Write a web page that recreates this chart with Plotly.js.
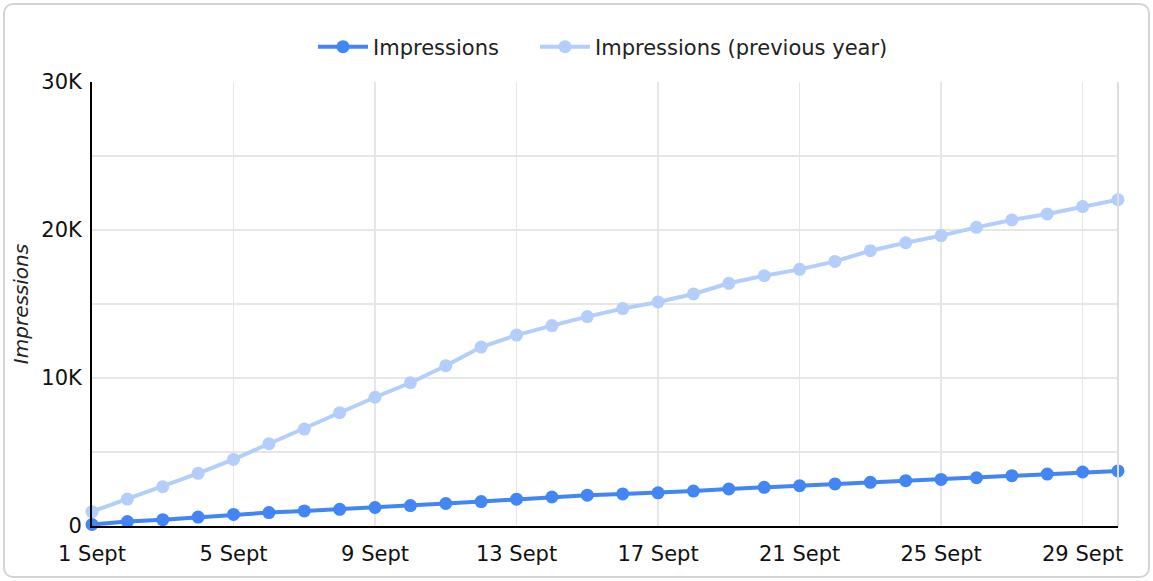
<!DOCTYPE html>
<html>
<head>
<meta charset="utf-8">
<script src="https://cdn.plot.ly/plotly-3.0.1.min.js"></script>
<style>
  html, body { margin: 0; padding: 0; background: #ffffff; }
  #wrap { position: relative; width: 1153px; height: 581px; }
  #chart { position: absolute; left: 0; top: 0; width: 1153px; height: 581px; }
  #card { position: absolute; left: 3px; top: 3px; width: 1147px; height: 575px;
          box-sizing: border-box; border: 2px solid #d4d4d4; border-radius: 10px;
          pointer-events: none; }
</style>
</head>
<body>
<div id="wrap">
  <div id="chart"></div>
  <div id="card"></div>
</div>
<script>
const days = ["1 Sept","2 Sept","3 Sept","4 Sept","5 Sept","6 Sept","7 Sept","8 Sept","9 Sept","10 Sept",
  "11 Sept","12 Sept","13 Sept","14 Sept","15 Sept","16 Sept","17 Sept","18 Sept","19 Sept","20 Sept",
  "21 Sept","22 Sept","23 Sept","24 Sept","25 Sept","26 Sept","27 Sept","28 Sept","29 Sept","30 Sept"];

const impressions = [100, 300, 430, 600, 780, 910, 1020, 1130, 1250, 1380,
  1520, 1650, 1810, 1960, 2080, 2170, 2240, 2360, 2500, 2610,
  2720, 2840, 2950, 3060, 3150, 3260, 3400, 3510, 3650, 3720];

const impressionsPrev = [970, 1820, 2660, 3560, 4500, 5560, 6550, 7660, 8700, 9680,
  10830, 12090, 12900, 13540, 14150, 14690, 15140, 15680, 16400, 16910,
  17340, 17880, 18600, 19140, 19620, 20180, 20680, 21080, 21580, 22050];

const xTickVals = ["1 Sept","5 Sept","9 Sept","13 Sept","17 Sept","21 Sept","25 Sept","29 Sept"];
const yTickVals = [0, 5000, 10000, 15000, 20000, 25000, 30000];
const yTickText = ["0", "", "10K", "", "20K", "", "30K"];

const FONT = "DejaVu Sans, Noto Sans, sans-serif";

const traces = [
  {
    x: days, y: impressions, name: "Impressions", type: "scatter", mode: "lines+markers",
    line: { color: "#4285f4", width: 4 },
    marker: { color: "#4285f4", size: 13 },
    cliponaxis: false, legend: "legend"
  },
  {
    x: days, y: impressionsPrev, name: "Impressions (previous year)", type: "scatter", mode: "lines+markers",
    line: { color: "#b3cefb", width: 4 },
    marker: { color: "#b3cefb", size: 13 },
    cliponaxis: false, legend: "legend2"
  }
];

const legendFont = { family: FONT, size: 21, color: "#222222" };
const legendY = 1 + (82 - 47) / 444;

const layout = {
  width: 1153, height: 581,
  margin: { l: 92, r: 35, t: 82, b: 55 },
  paper_bgcolor: "rgba(0,0,0,0)",
  plot_bgcolor: "#ffffff",
  font: { family: FONT, size: 21, color: "#000000" },
  showlegend: true,
  legend: {
    orientation: "h", x: (313 - 92) / 1026, xanchor: "left", y: legendY, yanchor: "middle",
    font: legendFont, itemwidth: 50, bgcolor: "rgba(0,0,0,0)"
  },
  legend2: {
    orientation: "h", x: (535 - 92) / 1026, xanchor: "left", y: legendY, yanchor: "middle",
    font: legendFont, itemwidth: 50, bgcolor: "rgba(0,0,0,0)"
  },
  xaxis: {
    type: "category",
    range: [0, 29],
    tickmode: "array", tickvals: xTickVals, ticktext: xTickVals,
    showgrid: true, gridcolor: "#e6e6e6", gridwidth: 1.5,
    showline: true, linecolor: "#000000", linewidth: 2,
    ticks: "", ticklabelstandoff: 8,
    tickfont: { family: FONT, size: 21, color: "#111111" },
    zeroline: false, fixedrange: true
  },
  yaxis: {
    range: [0, 30000],
    tickmode: "array", tickvals: yTickVals, ticktext: yTickText,
    showgrid: true, gridcolor: "#e6e6e6", gridwidth: 1.5,
    showline: true, linecolor: "#000000", linewidth: 2,
    ticks: "", ticklabelstandoff: 4,
    tickfont: { family: FONT, size: 21, color: "#111111" },
    zeroline: false, fixedrange: true,
    title: { text: "<i>Impressions</i>", font: { family: FONT, size: 20, color: "#222222" }, standoff: 7 }
  },
  shapes: [
    { type: "line", xref: "paper", yref: "paper", x0: 1, x1: 1, y0: 0, y1: 1,
      line: { color: "#dddddd", width: 2 } }
  ]
};

Plotly.newPlot("chart", traces, layout, { displayModeBar: false, staticPlot: true });
</script>
</body>
</html>
